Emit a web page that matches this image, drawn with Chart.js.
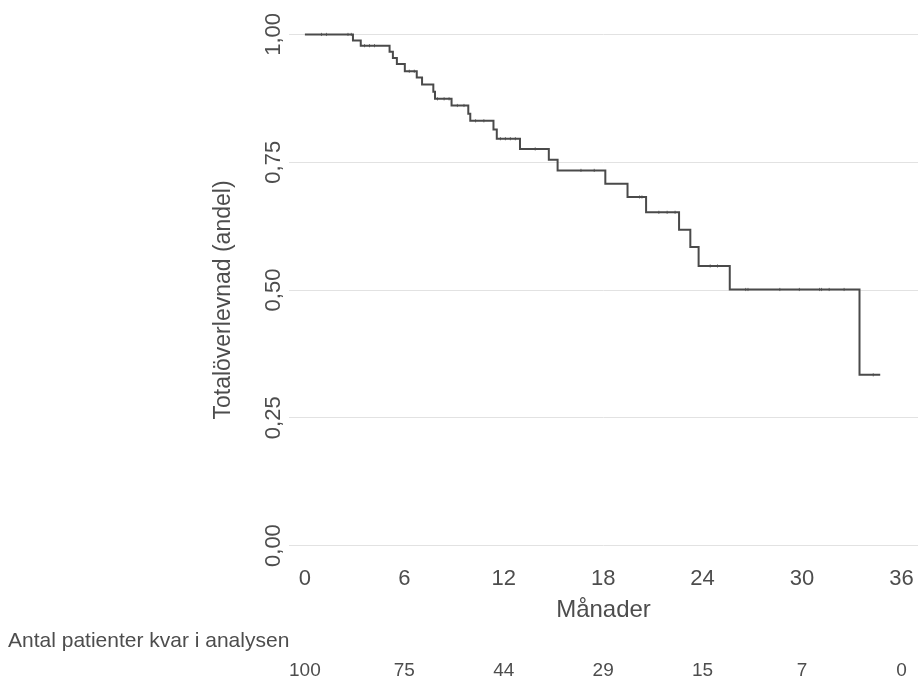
<!DOCTYPE html>
<html>
<head>
<meta charset="utf-8">
<script src="https://cdn.jsdelivr.net/npm/chart.js@4/dist/chart.umd.min.js"></script>
<style>
  html, body { margin: 0; padding: 0; background: #ffffff; }
  #wrap { width: 923px; height: 680px; position: relative; }
</style>
</head>
<body>
<div id="wrap"><canvas id="c" width="923" height="680"></canvas></div>
<script>
// Kaplan-Meier step points (months, survival proportion)
const stepTimes = [0, 2.90, 3.37, 5.11, 5.31, 5.55, 6.03, 6.75, 7.07, 7.75, 7.85, 8.85, 9.86, 9.98, 11.38, 11.58, 12.98, 14.72, 15.25, 18.13, 19.47, 20.59, 22.58, 23.26, 23.76, 25.64, 33.47, 34.72];
const stepSurv  = [1.000, 0.988, 0.978, 0.966, 0.954, 0.942, 0.928, 0.916, 0.902, 0.888, 0.874, 0.861, 0.845, 0.831, 0.814, 0.796, 0.776, 0.755, 0.734, 0.708, 0.682, 0.652, 0.618, 0.584, 0.547, 0.501, 0.334, 0.334];

// Censoring marks
const censorTimes = [1.0, 1.3, 2.6, 2.8, 3.6, 3.9, 4.2, 6.3, 6.6, 8.0, 8.4, 8.7, 9.2, 9.6, 10.3, 10.8, 11.8, 12.1, 12.4, 12.7, 13.9, 16.66, 17.46, 20.2, 20.34, 21.36, 21.86, 22.34, 24.46, 24.9, 26.6, 26.74, 28.66, 29.84, 31.06, 31.18, 31.64, 32.54, 34.3];
const censorSurv  = [1.0, 1.0, 1.0, 1.0, 0.978, 0.978, 0.978, 0.928, 0.928, 0.874, 0.874, 0.874, 0.861, 0.861, 0.831, 0.831, 0.796, 0.796, 0.796, 0.796, 0.776, 0.734, 0.734, 0.682, 0.682, 0.652, 0.652, 0.652, 0.547, 0.547, 0.501, 0.501, 0.501, 0.501, 0.501, 0.501, 0.501, 0.501, 0.334];

// Axes
const xTicks = [0, 6, 12, 18, 24, 30, 36];
const yTicks = [0, 0.25, 0.5, 0.75, 1.0];
const yTickLabels = ["0,00", "0,25", "0,50", "0,75", "1,00"];
const xTitle = "Månader";
const yTitle = "Totalöverlevnad (andel)";

// Number at risk table
const riskTitle = "Antal patienter kvar i analysen";
const riskTimes = [0, 6, 12, 18, 24, 30, 36];
const riskCounts = [100, 75, 44, 29, 15, 7, 0];

const TEXT = '#4d4d4d';
const LINE = '#4a4a4a';
const FONT = '"Liberation Sans", Arial, Helvetica, sans-serif';

const overlay = {
  id: 'overlay',
  afterDraw(chart) {
    const ctx = chart.ctx;
    const ys = chart.scales.y, xs = chart.scales.x;
    ctx.save();
    ctx.fillStyle = TEXT;
    // rotated y tick labels
    ctx.font = '22px ' + FONT;
    ctx.textAlign = 'center';
    ctx.textBaseline = 'alphabetic';
    yTicks.forEach((v, i) => {
      const py = ys.getPixelForValue(v);
      ctx.save();
      ctx.translate(280, py);
      ctx.rotate(-Math.PI / 2);
      ctx.fillText(yTickLabels[i], 0, 0);
      ctx.restore();
    });
    // y title
    ctx.font = '23px ' + FONT;
    ctx.save();
    ctx.translate(230, (ys.getPixelForValue(0.25) + ys.getPixelForValue(0.75)) / 2 + 10);
    ctx.rotate(-Math.PI / 2);
    ctx.fillText(yTitle, 0, 0);
    ctx.restore();
    // risk table
    ctx.font = '21px ' + FONT;
    ctx.textAlign = 'left';
    ctx.textBaseline = 'middle';
    ctx.fillText(riskTitle, 8, 641);
    ctx.font = '19px ' + FONT;
    ctx.textAlign = 'center';
    riskTimes.forEach((t, i) => {
      ctx.fillText(String(riskCounts[i]), xs.getPixelForValue(t), 671);
    });
    ctx.restore();
  }
};

new Chart(document.getElementById('c'), {
  type: 'scatter',
  data: {
    datasets: [
      {
        label: 'KM',
        type: 'line',
        data: stepTimes.map((t, i) => ({ x: t, y: stepSurv[i] })),
        stepped: 'before',
        borderColor: LINE,
        borderWidth: 2,
        pointRadius: 0,
        fill: false
      },
      {
        label: 'censor',
        data: censorTimes.map((t, i) => ({ x: t, y: censorSurv[i] })),
        pointStyle: 'line',
        rotation: 90,
        pointRadius: 1.6,
        borderWidth: 1,
        borderColor: '#777777',
        backgroundColor: '#777777'
      }
    ]
  },
  options: {
    responsive: false,
    animation: false,
    devicePixelRatio: 1,
    layout: { padding: { left: 0, right: 1, top: 14, bottom: 0 } },
    plugins: { legend: { display: false }, tooltip: { enabled: false } },
    scales: {
      x: {
        type: 'linear',
        min: -0.96,
        max: 37.0,
        afterBuildTicks: (s) => { s.ticks = xTicks.map(v => ({ value: v })); },
        afterFit: (s) => { s.height = 114; },
        grid: { display: false, drawTicks: false },
        border: { display: false },
        ticks: {
          color: TEXT,
          font: { family: FONT, size: 22 },
          padding: 0,
          maxRotation: 0,
          autoSkip: false,
          callback: (v) => String(v)
        },
        title: {
          display: true,
          text: xTitle,
          color: TEXT,
          font: { family: FONT, size: 24 },
          padding: { top: 0, bottom: 55 }
        }
      },
      y: {
        type: 'linear',
        min: -0.04,
        max: 1.04,
        afterBuildTicks: (s) => { s.ticks = yTicks.map(v => ({ value: v })); },
        afterFit: (s) => { s.width = 289; },
        grid: { color: '#e2e2e2', lineWidth: 1, drawTicks: false },
        border: { display: false },
        ticks: { display: false }
      }
    }
  },
  plugins: [overlay]
});
</script>
</body>
</html>
